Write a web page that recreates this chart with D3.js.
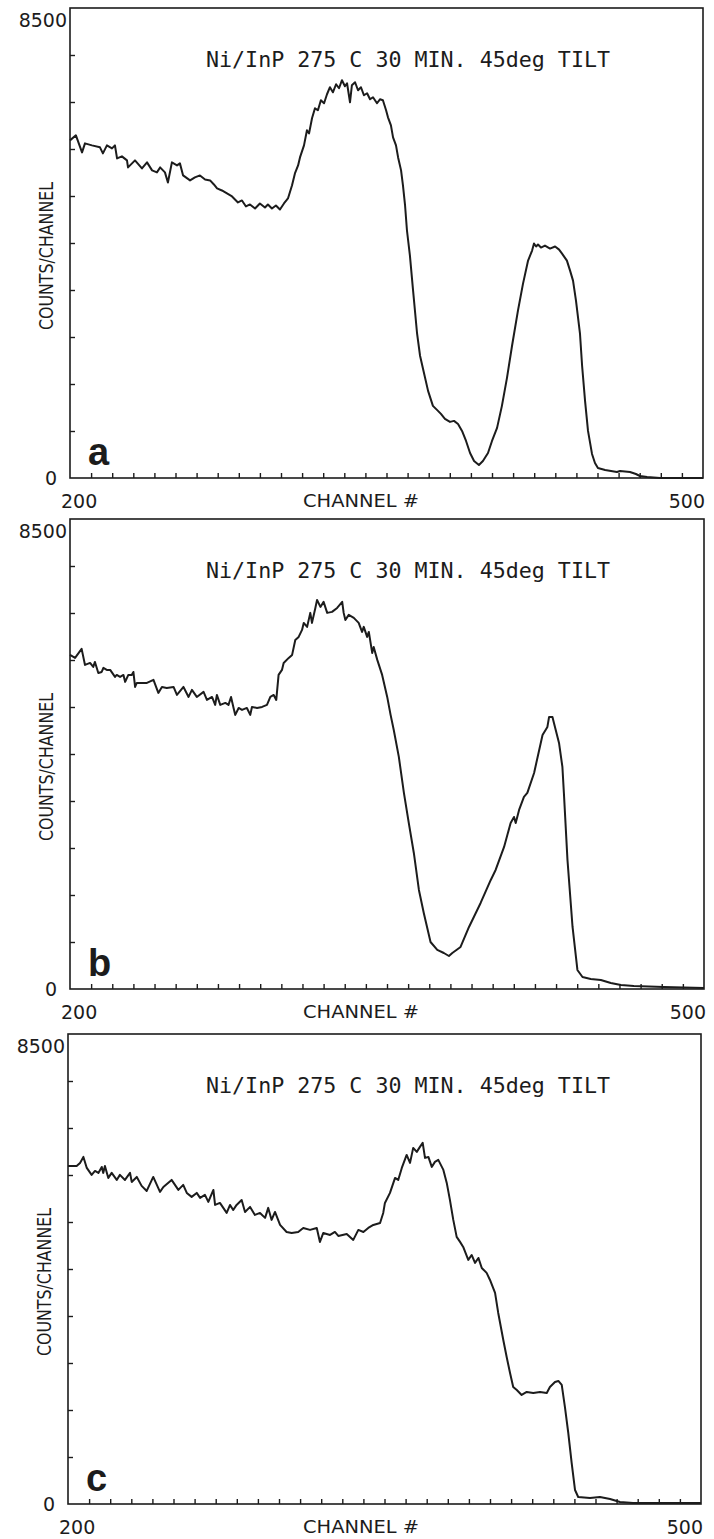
<!DOCTYPE html>
<html>
<head>
<meta charset="utf-8">
<script src="https://cdn.jsdelivr.net/npm/d3@7"></script>
<style>
  body { margin: 0; background: #fff; }
</style>
</head>
<body>
<div id="container"></div>
<script>
// spectrum a
const chA = [200, 202.8, 205.7, 207.1, 210.4, 214.2, 215.6, 217.5, 219.9, 221.3, 222.3, 224.6, 227, 227.5, 230.8, 234.1, 236.5, 238.9, 241.2, 242.7, 245, 246.4, 248.3, 250.7, 252.1, 253.6, 256.9, 259.2, 261.6, 264, 266.4, 268.2, 269.7, 272, 274.4, 276.8, 279.6, 281.5, 283.4, 285.3, 287.7, 290, 292.4, 293.8, 295.7, 297.6, 299.5, 301.4, 303.3, 305.2, 306.6, 308.1, 309, 310.9, 312.3, 313.3, 314.7, 316.1, 317.5, 318.9, 320.4, 321.8, 323.2, 324.6, 326.1, 327.5, 328.9, 330.3, 331.3, 332.7, 333.6, 335.1, 336.5, 337.9, 339.3, 340.8, 342.2, 343.6, 345.5, 346.9, 348.3, 349.8, 350.7, 352.1, 353.1, 354.5, 355.5, 356.9, 357.8, 358.8, 359.7, 361.1, 362.6, 364.5, 365.9, 367.3, 369.7, 372, 374.4, 375.8, 377.7, 380.1, 382, 383.9, 385.8, 387.7, 389.6, 391.5, 393.8, 395.7, 398.1, 400, 402.4, 404.7, 407.1, 409.5, 412.3, 414.7, 417.1, 419, 419.9, 420.9, 421.8, 423.2, 425.1, 427.5, 429.9, 431.8, 433.2, 435.5, 437, 438.4, 439.8, 441.7, 442.7, 444.1, 445.5, 447.4, 448.8, 450.2, 453.6, 459.2, 460.7, 465.4, 468.2, 470.1, 473.5, 479.6, 500];
const cntA = [6106, 6197, 5889, 6052, 6016, 5980, 5871, 6016, 5961, 6016, 5780, 5817, 5744, 5617, 5744, 5599, 5708, 5563, 5527, 5617, 5527, 5345, 5708, 5653, 5690, 5472, 5382, 5436, 5472, 5400, 5382, 5309, 5237, 5200, 5146, 5092, 4983, 5019, 4911, 4947, 4874, 4965, 4892, 4947, 4874, 4929, 4856, 4965, 5055, 5291, 5508, 5653, 5798, 6016, 6288, 6233, 6505, 6686, 6650, 6831, 6777, 6940, 7067, 6976, 7121, 7049, 7194, 7085, 7139, 6795, 7103, 7157, 7012, 7067, 6922, 6958, 6849, 6886, 6777, 6849, 6831, 6650, 6523, 6378, 6161, 6016, 5798, 5563, 5291, 4929, 4476, 4023, 3388, 2609, 2211, 1975, 1576, 1305, 1214, 1160, 1069, 1015, 1033, 978, 852, 670, 453, 308, 236, 308, 453, 670, 906, 1305, 1812, 2392, 3026, 3515, 3932, 4113, 4240, 4186, 4222, 4168, 4204, 4149, 4186, 4131, 4059, 3932, 3751, 3570, 3207, 2609, 2029, 1395, 852, 435, 272, 181, 145, 109, 127, 109, 72, 36, 18, 0, 0];

// spectrum b
const chB = [200, 202.4, 205.5, 207.1, 209.5, 211, 211.8, 213.4, 215, 215.8, 217.4, 219, 221.3, 222.1, 223.7, 225.3, 226.1, 227.6, 229.2, 230, 230.8, 231.6, 236.4, 239.5, 241.8, 243.5, 245.8, 249, 250.6, 253.7, 256.1, 257.7, 260, 263.2, 264.8, 267.2, 268.7, 269.5, 271.1, 273.5, 275, 276.2, 277.4, 278.2, 279.8, 281.4, 283.7, 285.3, 286.1, 288.5, 290.9, 293.2, 294.8, 296.4, 297.6, 298.7, 300.3, 301.1, 303.5, 305.1, 306.6, 308.2, 309.8, 310.6, 312.2, 313.7, 314.5, 316.1, 316.9, 318.5, 320, 321.7, 324, 326.4, 328.8, 329.5, 330.3, 331.9, 334.3, 336.6, 338.2, 339, 340.6, 341.4, 343, 343.7, 345.4, 347.7, 350.1, 351.7, 353.2, 355.6, 358, 360.3, 362.7, 365.1, 367.4, 370.6, 373.8, 376.9, 379.3, 380.9, 384.8, 388.8, 394.3, 399.1, 401.4, 405.4, 408.5, 410.1, 410.9, 412.5, 414.8, 416.4, 419.6, 423.6, 425.9, 426.7, 428.3, 429, 431.4, 433, 433.7, 435.4, 437.8, 440.1, 442.5, 446.4, 451.2, 455.9, 460.7, 466.8, 481, 500];
const cntB = [6042, 5988, 6151, 5861, 5897, 5825, 5915, 5716, 5734, 5807, 5771, 5771, 5644, 5680, 5644, 5680, 5554, 5680, 5680, 5734, 5463, 5536, 5536, 5590, 5355, 5463, 5445, 5463, 5318, 5463, 5282, 5409, 5282, 5373, 5228, 5282, 5138, 5318, 5138, 5174, 5138, 5282, 5083, 4957, 5083, 5047, 5083, 4957, 5101, 5083, 5101, 5138, 5282, 5318, 5228, 5680, 5771, 5897, 5988, 6042, 6313, 6368, 6494, 6621, 6549, 6802, 6621, 6892, 7037, 6910, 7001, 6802, 6820, 6892, 7001, 6802, 6675, 6766, 6711, 6621, 6458, 6549, 6368, 6458, 6078, 6187, 5952, 5680, 5282, 4957, 4685, 4197, 3546, 3003, 2460, 1791, 1375, 850, 706, 651, 597, 651, 760, 1122, 1556, 1972, 2153, 2569, 3003, 3111, 3003, 3238, 3473, 3546, 3907, 4595, 4740, 4920, 4920, 4812, 4450, 4016, 3546, 2334, 1122, 344, 217, 181, 163, 109, 72, 54, 36, 18];

// spectrum c
const chC = [200, 204.1, 205.7, 207.3, 208.9, 211.2, 212.8, 214.4, 216, 216.7, 217.5, 219.1, 220.7, 223.1, 224.6, 227, 229.4, 230.2, 232.6, 234.9, 237.3, 240.4, 243.6, 245.2, 249.1, 252.3, 254.6, 256.3, 258.6, 261, 262.6, 264.9, 266.5, 268.9, 269.7, 272, 275.2, 276.8, 278.3, 279.9, 282.3, 283.9, 286.3, 288.6, 291, 293.4, 294.9, 296.5, 298.1, 300.5, 303.6, 306, 309.1, 311.5, 314.7, 317.9, 319.4, 321, 324.2, 326.5, 328.1, 332.1, 335.2, 337.6, 340, 342.3, 344.7, 347.9, 349.4, 350.2, 352.6, 355, 356.5, 358.2, 360.5, 362.1, 363.6, 365.3, 366.8, 368.1, 369.2, 370.8, 372.4, 373.9, 375.5, 377.9, 379.5, 381, 382.6, 384.2, 385.8, 387.3, 389.7, 391.3, 392.9, 394.5, 396.1, 398.4, 400, 402.4, 403.9, 406.3, 407.9, 409.5, 411, 412.7, 415, 417.4, 420.5, 423.7, 426.9, 428.4, 430.8, 432.4, 434, 435.5, 437.1, 438.7, 440.3, 441.8, 447.4, 452.1, 456.9, 461.6, 467.8, 500];
const cntC = [6114, 6114, 6169, 6277, 6078, 5952, 6024, 5988, 6096, 5988, 6114, 5897, 5988, 5861, 5952, 5861, 5988, 5825, 5915, 5753, 5662, 5915, 5644, 5734, 5861, 5680, 5771, 5626, 5554, 5626, 5536, 5590, 5463, 5680, 5409, 5445, 5264, 5409, 5318, 5409, 5499, 5282, 5373, 5228, 5264, 5174, 5355, 5138, 5282, 5047, 4920, 4902, 4920, 4993, 4957, 4993, 4740, 4902, 4866, 4920, 4848, 4884, 4776, 4957, 4920, 4993, 5047, 5083, 5264, 5445, 5626, 5897, 5861, 6078, 6313, 6169, 6440, 6368, 6458, 6530, 6259, 6277, 6096, 6187, 6223, 6042, 5807, 5499, 5138, 4830, 4740, 4649, 4414, 4504, 4360, 4450, 4269, 4179, 4052, 3817, 3455, 2967, 2659, 2370, 2117, 2062, 1972, 2026, 2008, 2026, 2008, 2117, 2207, 2225, 2153, 1755, 1284, 742, 253, 127, 109, 127, 90, 36, 18, 18];

const title = "Ni/InP 275 C 30 MIN. 45deg TILT";
const panelLetters = ["a", "b", "c"];
const xLabel = "CHANNEL #";
const yLabel = "COUNTS/CHANNEL";
const xTickLabels = [200, 500];
const yTickLabels = [0, 8500];
const xTicks = [210, 220, 230, 240, 250, 260, 270, 280, 290, 300, 310, 320, 330, 340, 350, 360, 370, 380, 390, 400, 410, 420, 430, 440, 450, 460, 470, 480, 490];
const yTicks = [850, 1700, 2550, 3400, 4250, 5100, 5950, 6800, 7650];

const width = 714, height = 1539;
const ink = "#1c1c1c";

const svg = d3.select("#container").append("svg")
    .attr("width", width)
    .attr("height", height)
    .style("display", "block")
    .style("background", "#fff");

// box of each panel on the page
const boxes = [
    { top: 8, bottom: 478, left: 70, right: 703 },
    { top: 519, bottom: 989, left: 70, right: 704 },
    { top: 1034, bottom: 1504, left: 68, right: 701 }
];

const series = [[chA, cntA], [chB, cntB], [chC, cntC]];

boxes.forEach((b, i) => createPanel(b, series[i][0], series[i][1], panelLetters[i]));

function createPanel(b, ch, cnt, letter) {
    const g = svg.append("g");

    const x = d3.scaleLinear().domain([200, 500]).range([b.left, b.right]);
    const y = d3.scaleLinear().domain([0, 8500]).range([b.bottom, b.top]);

    // frame
    g.append("rect")
        .attr("x", b.left)
        .attr("y", b.top)
        .attr("width", b.right - b.left)
        .attr("height", b.bottom - b.top)
        .attr("fill", "none")
        .attr("stroke", ink)
        .attr("stroke-width", 1.6);

    // inward ticks
    g.append("g")
        .attr("transform", `translate(0,${b.bottom})`)
        .call(d3.axisBottom(x).tickValues(xTicks).tickSize(-5).tickFormat(""))
        .call(g => g.select(".domain").remove())
        .call(g => g.selectAll("line").attr("stroke", ink).attr("stroke-width", 1.4));

    g.append("g")
        .attr("transform", `translate(${b.left},0)`)
        .call(d3.axisLeft(y).tickValues(yTicks).tickSize(-5).tickFormat(""))
        .call(g => g.select(".domain").remove())
        .call(g => g.selectAll("line").attr("stroke", ink).attr("stroke-width", 1.4));

    // spectrum
    const data = ch.map((c, k) => ({ ch: c, cnt: cnt[k] }));
    const line = d3.line()
        .x(d => x(d.ch))
        .y(d => y(d.cnt));

    g.append("path")
        .datum(data)
        .attr("fill", "none")
        .attr("stroke", ink)
        .attr("stroke-width", 2)
        .attr("stroke-linejoin", "round")
        .attr("d", line);

    // tick labels
    g.append("text")
        .attr("x", x(xTickLabels[0]) - 9)
        .attr("y", b.bottom + 30)
        .attr("font-family", "'DejaVu Sans', sans-serif")
        .attr("font-size", 19)
        .attr("fill", ink)
        .text(xTickLabels[0]);

    g.append("text")
        .attr("x", x(xTickLabels[1]) + 2)
        .attr("y", b.bottom + 30)
        .attr("text-anchor", "end")
        .attr("font-family", "'DejaVu Sans', sans-serif")
        .attr("font-size", 19)
        .attr("fill", ink)
        .text(xTickLabels[1]);

    g.append("text")
        .attr("x", b.left - 13)
        .attr("y", y(yTickLabels[0]) + 7)
        .attr("text-anchor", "end")
        .attr("font-family", "'DejaVu Sans', sans-serif")
        .attr("font-size", 19)
        .attr("fill", ink)
        .text(yTickLabels[0]);

    g.append("text")
        .attr("x", b.left - 3)
        .attr("y", y(yTickLabels[1]) + 19)
        .attr("text-anchor", "end")
        .attr("font-family", "'DejaVu Sans', sans-serif")
        .attr("font-size", 19)
        .attr("fill", ink)
        .text(yTickLabels[1]);

    // axis titles
    g.append("text")
        .attr("x", 303)
        .attr("y", b.bottom + 29)
        .attr("font-family", "'DejaVu Sans', sans-serif")
        .attr("font-size", 18)
        .attr("textLength", 116)
        .attr("lengthAdjust", "spacingAndGlyphs")
        .attr("fill", ink)
        .text(xLabel);

    g.append("text")
        .attr("transform", `translate(${b.left - 17},${b.top + 322}) rotate(-90)`)
        .attr("font-family", "'DejaVu Sans', sans-serif")
        .attr("font-size", 20)
        .attr("textLength", 148)
        .attr("lengthAdjust", "spacingAndGlyphs")
        .attr("fill", ink)
        .text(yLabel);

    // plot title
    g.append("text")
        .attr("x", 206)
        .attr("y", b.top + 59)
        .attr("font-family", "'DejaVu Sans Mono', monospace")
        .attr("font-size", 21)
        .attr("textLength", 404)
        .attr("lengthAdjust", "spacingAndGlyphs")
        .attr("fill", ink)
        .text(title);

    // panel letter
    g.append("text")
        .attr("x", b.left + 18)
        .attr("y", b.bottom - 13)
        .attr("font-family", "'Liberation Sans', Arial, sans-serif")
        .attr("font-weight", "bold")
        .attr("font-size", 38)
        .attr("fill", ink)
        .text(letter);
}
</script>
</body>
</html>
